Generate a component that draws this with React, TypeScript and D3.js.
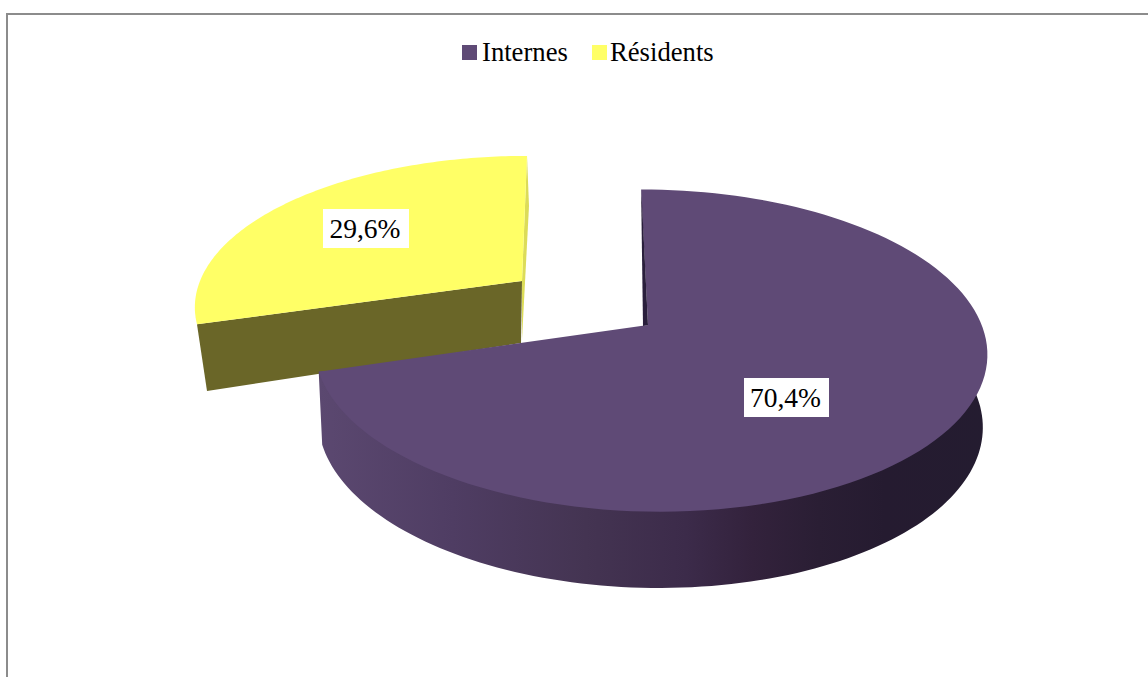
import React from "react";
import * as d3 from "d3";

// Share of each group, in percent
const categories = ["Internes", "Résidents"];
const shares = [70.4, 29.6];
const topColours = ["#5f4a76", "#ffff66"];
const legendSwatchX = [462, 592];
const legendTextX = [482, 610];

// Perspective settings of one disc: origin, half axes, skew and vanishing terms
type Disc = { x: number; y: number; a: number; b: number; s: number; k: number; m: number };

const mainTop: Disc = { x: 648, y: 325, a: 332, b: 157, s: 8, k: 0.159, m: 0.005 };
const mainBase: Disc = { x: 647.5, y: 397, a: 328, b: 160.6, s: 8, k: 0.159, m: 0.005 };
const sliceTop: Disc = { x: 522, y: 281, a: 322, b: 145, s: -5.8, k: 0.159, m: 0 };
const sliceBase: Disc = { x: 521, y: 343, a: 311, b: 161, s: -5.8, k: 0.159, m: 0 };

const wallStops: [number, string][] = [
  [0, "#5b4870"],
  [0.2, "#4f3d63"],
  [0.4, "#443452"],
  [0.55, "#3c2b4a"],
  [0.65, "#33223c"],
  [0.75, "#2a1e34"],
  [0.85, "#251b30"],
  [1, "#241c30"],
];

const project = (d: Disc, t: number): [number, number] => {
  const u = Math.sin(t);
  const v = -Math.cos(t);
  const den = 1 - d.k * v - d.m * u;
  return [d.x + (d.a * u + d.s * v) / den, d.y + (d.b * v) / den];
};

const sweep = (d: Disc, from: number, to: number): [number, number][] =>
  d3.range(0, 121).map((i) => project(d, from + ((to - from) * i) / 120));

const outline = d3.line<[number, number]>();

const arcs = d3.pie<number>().sort(null).value((v) => v)(shares);
const percent = (v: number) => `${v.toFixed(1).replace(".", ",")}%`;

const labelBoxes = [
  { x: 744, y: 378, w: 85, h: 39 },
  { x: 323, y: 209, w: 86, h: 39 },
];

export default function App() {
  const [main, slice] = arcs;
  const mainCap = [...sweep(mainTop, main.startAngle, main.endAngle), [mainTop.x, mainTop.y] as [number, number]];
  const sliceCap = [...sweep(sliceTop, slice.startAngle, slice.endAngle), [sliceTop.x, sliceTop.y] as [number, number]];

  // The wall's upper edge runs just inside the cap so no seam shows between them
  const wallFrom = Math.PI * 0.42;
  const insetTop: Disc = { ...mainTop, a: mainTop.a * 0.985, b: mainTop.b * 0.985 };
  const mainWall = [
    ...sweep(insetTop, wallFrom, main.endAngle),
    project(mainTop, main.endAngle),
    ...sweep(mainBase, wallFrom, main.endAngle).reverse(),
  ];

  const sliceRim = project(sliceTop, slice.startAngle);
  const sliceBaseRim = project(sliceBase, slice.startAngle);
  const sliceCut: [number, number][] = [
    [sliceTop.x, sliceTop.y],
    sliceRim,
    sliceBaseRim,
    [sliceBase.x, sliceBase.y],
  ];

  const sliceEnd = project(sliceTop, slice.endAngle);
  const sliceSide: [number, number][] = [
    sliceEnd,
    [sliceEnd[0] + 2, sliceEnd[1] + 50],
    [sliceBase.x + 1, sliceBase.y - 3],
    [sliceTop.x, sliceTop.y],
  ];

  const mainRim = project(mainTop, main.startAngle);
  const innerFace: [number, number][] = [
    mainRim,
    [mainTop.x - 5, mainTop.y + 1],
    [mainTop.x, mainTop.y],
    [mainRim[0] + 1, mainRim[1] + 15],
  ];

  return (
    <svg
      width={1148}
      height={677}
      style={{ position: "fixed", left: 0, top: 0, background: "#fff", fontFamily: "'Liberation Serif', serif" }}
    >
      <defs>
        <linearGradient id="wallShade" gradientUnits="userSpaceOnUse" x1={320} x2={985} y1={0} y2={0}>
          {wallStops.map(([o, c]) => (
            <stop key={o} offset={o} stopColor={c} />
          ))}
        </linearGradient>
      </defs>

      {/* outer frame: only the top and left edges fall inside the page */}
      <path d="M7 677V14H1148" fill="none" stroke="#8c8c8c" strokeWidth={2} />

      {/* pulled-out slice */}
      <path d={outline(sliceSide)!} fill="#dcdc58" />
      <path d={outline(sliceCut)!} fill="#6a6628" />
      <path d={outline(sliceCap)! + "Z"} fill={topColours[1]} />

      {/* main slice */}
      <path d={outline(mainWall)! + "Z"} fill="url(#wallShade)" />
      <path d={outline(mainCap)! + "Z"} fill={topColours[0]} />
      <path d={outline(innerFace)! + "Z"} fill="#2a1f3c" />

      {/* value labels */}
      {arcs.map((arc, i) => {
        const box = labelBoxes[i];
        return (
          <g key={categories[i]}>
            <rect x={box.x} y={box.y} width={box.w} height={box.h} fill="#fff" />
            <text x={box.x + box.w / 2 - 1} y={box.y + 29} textAnchor="middle" fontSize={27.5} fill="#000">
              {percent(arc.value)}
            </text>
          </g>
        );
      })}

      {/* legend */}
      {categories.map((name, i) => (
        <g key={name}>
          <rect x={legendSwatchX[i]} y={45} width={15} height={15} fill={topColours[i]} />
          <text x={legendTextX[i]} y={61} fontSize={26.67} fill="#000">
            {name}
          </text>
        </g>
      ))}
    </svg>
  );
}
